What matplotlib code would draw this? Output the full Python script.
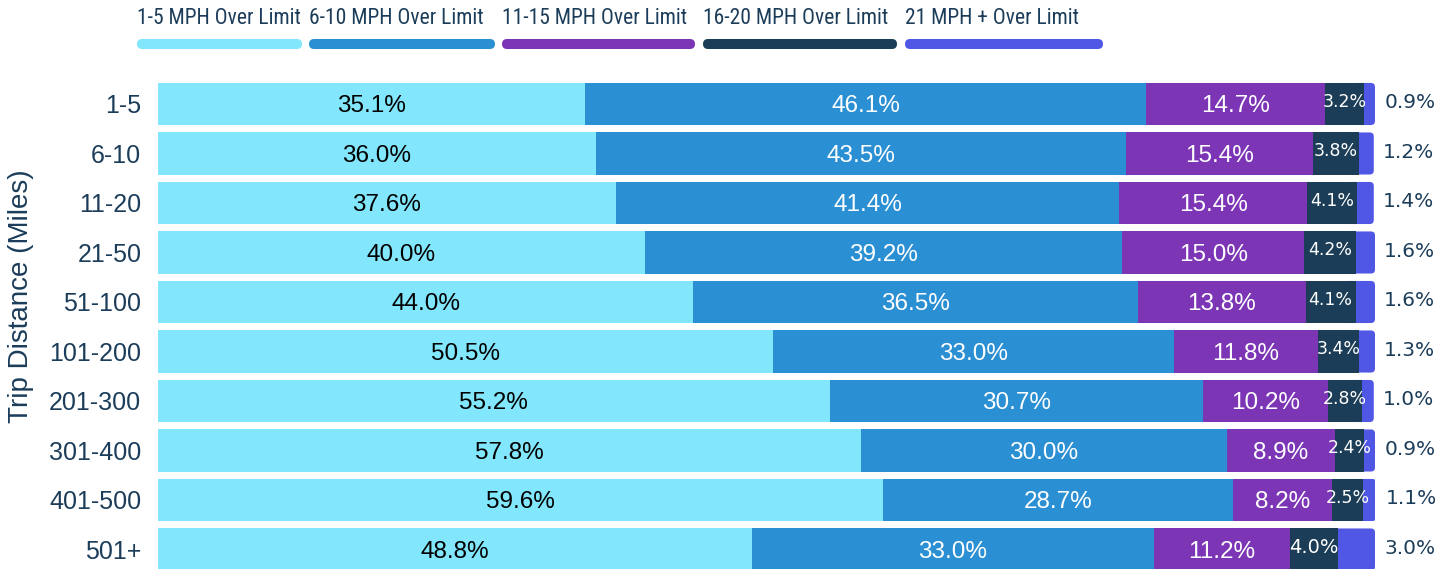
import matplotlib
matplotlib.use("Agg")
from matplotlib import pyplot as plt
from matplotlib.patches import FancyBboxPatch

# trip distance buckets and share of speeding events (%) per speed band
distances = ["1-5", "6-10", "11-20", "21-50", "51-100", "101-200",
             "201-300", "301-400", "401-500", "501+"]
over_1_5 = [35.1, 36.0, 37.6, 40.0, 44.0, 50.5, 55.2, 57.8, 59.6, 48.8]
over_6_10 = [46.1, 43.5, 41.4, 39.2, 36.5, 33.0, 30.7, 30.0, 28.7, 33.0]
over_11_15 = [14.7, 15.4, 15.4, 15.0, 13.8, 11.8, 10.2, 8.9, 8.2, 11.2]
over_16_20 = [3.2, 3.8, 4.1, 4.2, 4.1, 3.4, 2.8, 2.4, 2.5, 4.0]
over_21 = [0.9, 1.2, 1.4, 1.6, 1.6, 1.3, 1.0, 0.9, 1.1, 3.0]
series_names = ["1-5 MPH Over Limit", "6-10 MPH Over Limit", "11-15 MPH Over Limit",
                "16-20 MPH Over Limit", "21 MPH + Over Limit"]

series = [over_1_5, over_6_10, over_11_15, over_16_20, over_21]
colors = ["#82e6fc", "#2b8fd3", "#7b35b5", "#1b3d57", "#5057e4"]
navy = "#1c3d5a"

plt.rcParams['font.family'] = ['Liberation Sans', 'DejaVu Sans']
narrow = ['Roboto Condensed', 'Roboto', 'Liberation Sans']
wide = ['DejaVu Sans']

fig = plt.figure(figsize=(14.5, 5.69), dpi=100)
ax = fig.add_axes([158 / 1450, 0, (1375 - 158) / 1450, 1 - 78 / 569])

row_px = 49.5  # pixels per row, used to nudge baselines
bar_h = 0.85
ys = list(range(len(distances)))
left = [0.0] * len(distances)
for k, vals in enumerate(series):
    if k == len(series) - 1:
        # last band gets rounded right corners; its left side hides under the previous band
        for i, v in enumerate(vals):
            ax.add_patch(FancyBboxPatch((left[i] - 1, i - bar_h / 2), v + 1, bar_h,
                                        boxstyle="round,pad=0,rounding_size=0.33",
                                        mutation_aspect=0.246, facecolor=colors[k],
                                        edgecolor="none", zorder=0.5))
    else:
        ax.barh(ys, vals, left=left, height=bar_h, color=colors[k], linewidth=0)
    for i, v in enumerate(vals):
        cx = left[i] + v / 2
        lbl = f"{v:.1f}%"
        if k in (0, 1, 2):
            ax.text(cx, i + 8.5 / row_px, lbl, ha="center", va="baseline", fontsize=17.5,
                    color="black" if k == 0 else "white")
        elif k == 3:
            if i == len(vals) - 1:
                ax.text(cx, i + 3.5 / row_px, lbl, ha="center", va="baseline",
                        fontsize=14, color="white", family=wide)
            else:
                ax.text(cx, i + 3 / row_px, lbl, ha="center", va="baseline",
                        fontsize=12.5, color="white", family=wide)
        else:
            ax.text(left[i] + v + 0.75, i + 4.5 / row_px, lbl, ha="left", va="baseline",
                    fontsize=14.5, color=navy, family=wide)
    left = [a + b for a, b in zip(left, vals)]

ax.set_xlim(0, 100)
ax.set_ylim(9.394, -0.525)
ax.set_yticks(ys)
ax.set_yticklabels(distances, fontsize=18, color=navy)
ax.tick_params(axis="y", length=0, pad=12)
ax.set_xticks([])
for s in ax.spines.values():
    s.set_visible(False)
ax.set_ylabel("Trip Distance (Miles)", fontsize=20, color=navy)
ax.yaxis.set_label_coords(-0.1015, 0.556)

# legend: label above a rounded colour strip
legend_x = [137, 309, 502, 703, 905]
legend_w = [165, 186, 193, 194, 198]
for k, name in enumerate(series_names):
    x0 = legend_x[k] / 1450
    fig.text(x0, 1 - 19 / 569, name, ha="left", va="center", fontsize=15.5,
             color=navy, family=narrow)
    fig.patches.append(FancyBboxPatch((x0, 1 - 49 / 569), legend_w[k] / 1450, 10 / 569,
                                      boxstyle="round,pad=0,rounding_size=%f" % (5 / 1450),
                                      transform=fig.transFigure, facecolor=colors[k],
                                      edgecolor="none", mutation_aspect=1450 / 569))

fig.savefig("out.png", dpi=100)
